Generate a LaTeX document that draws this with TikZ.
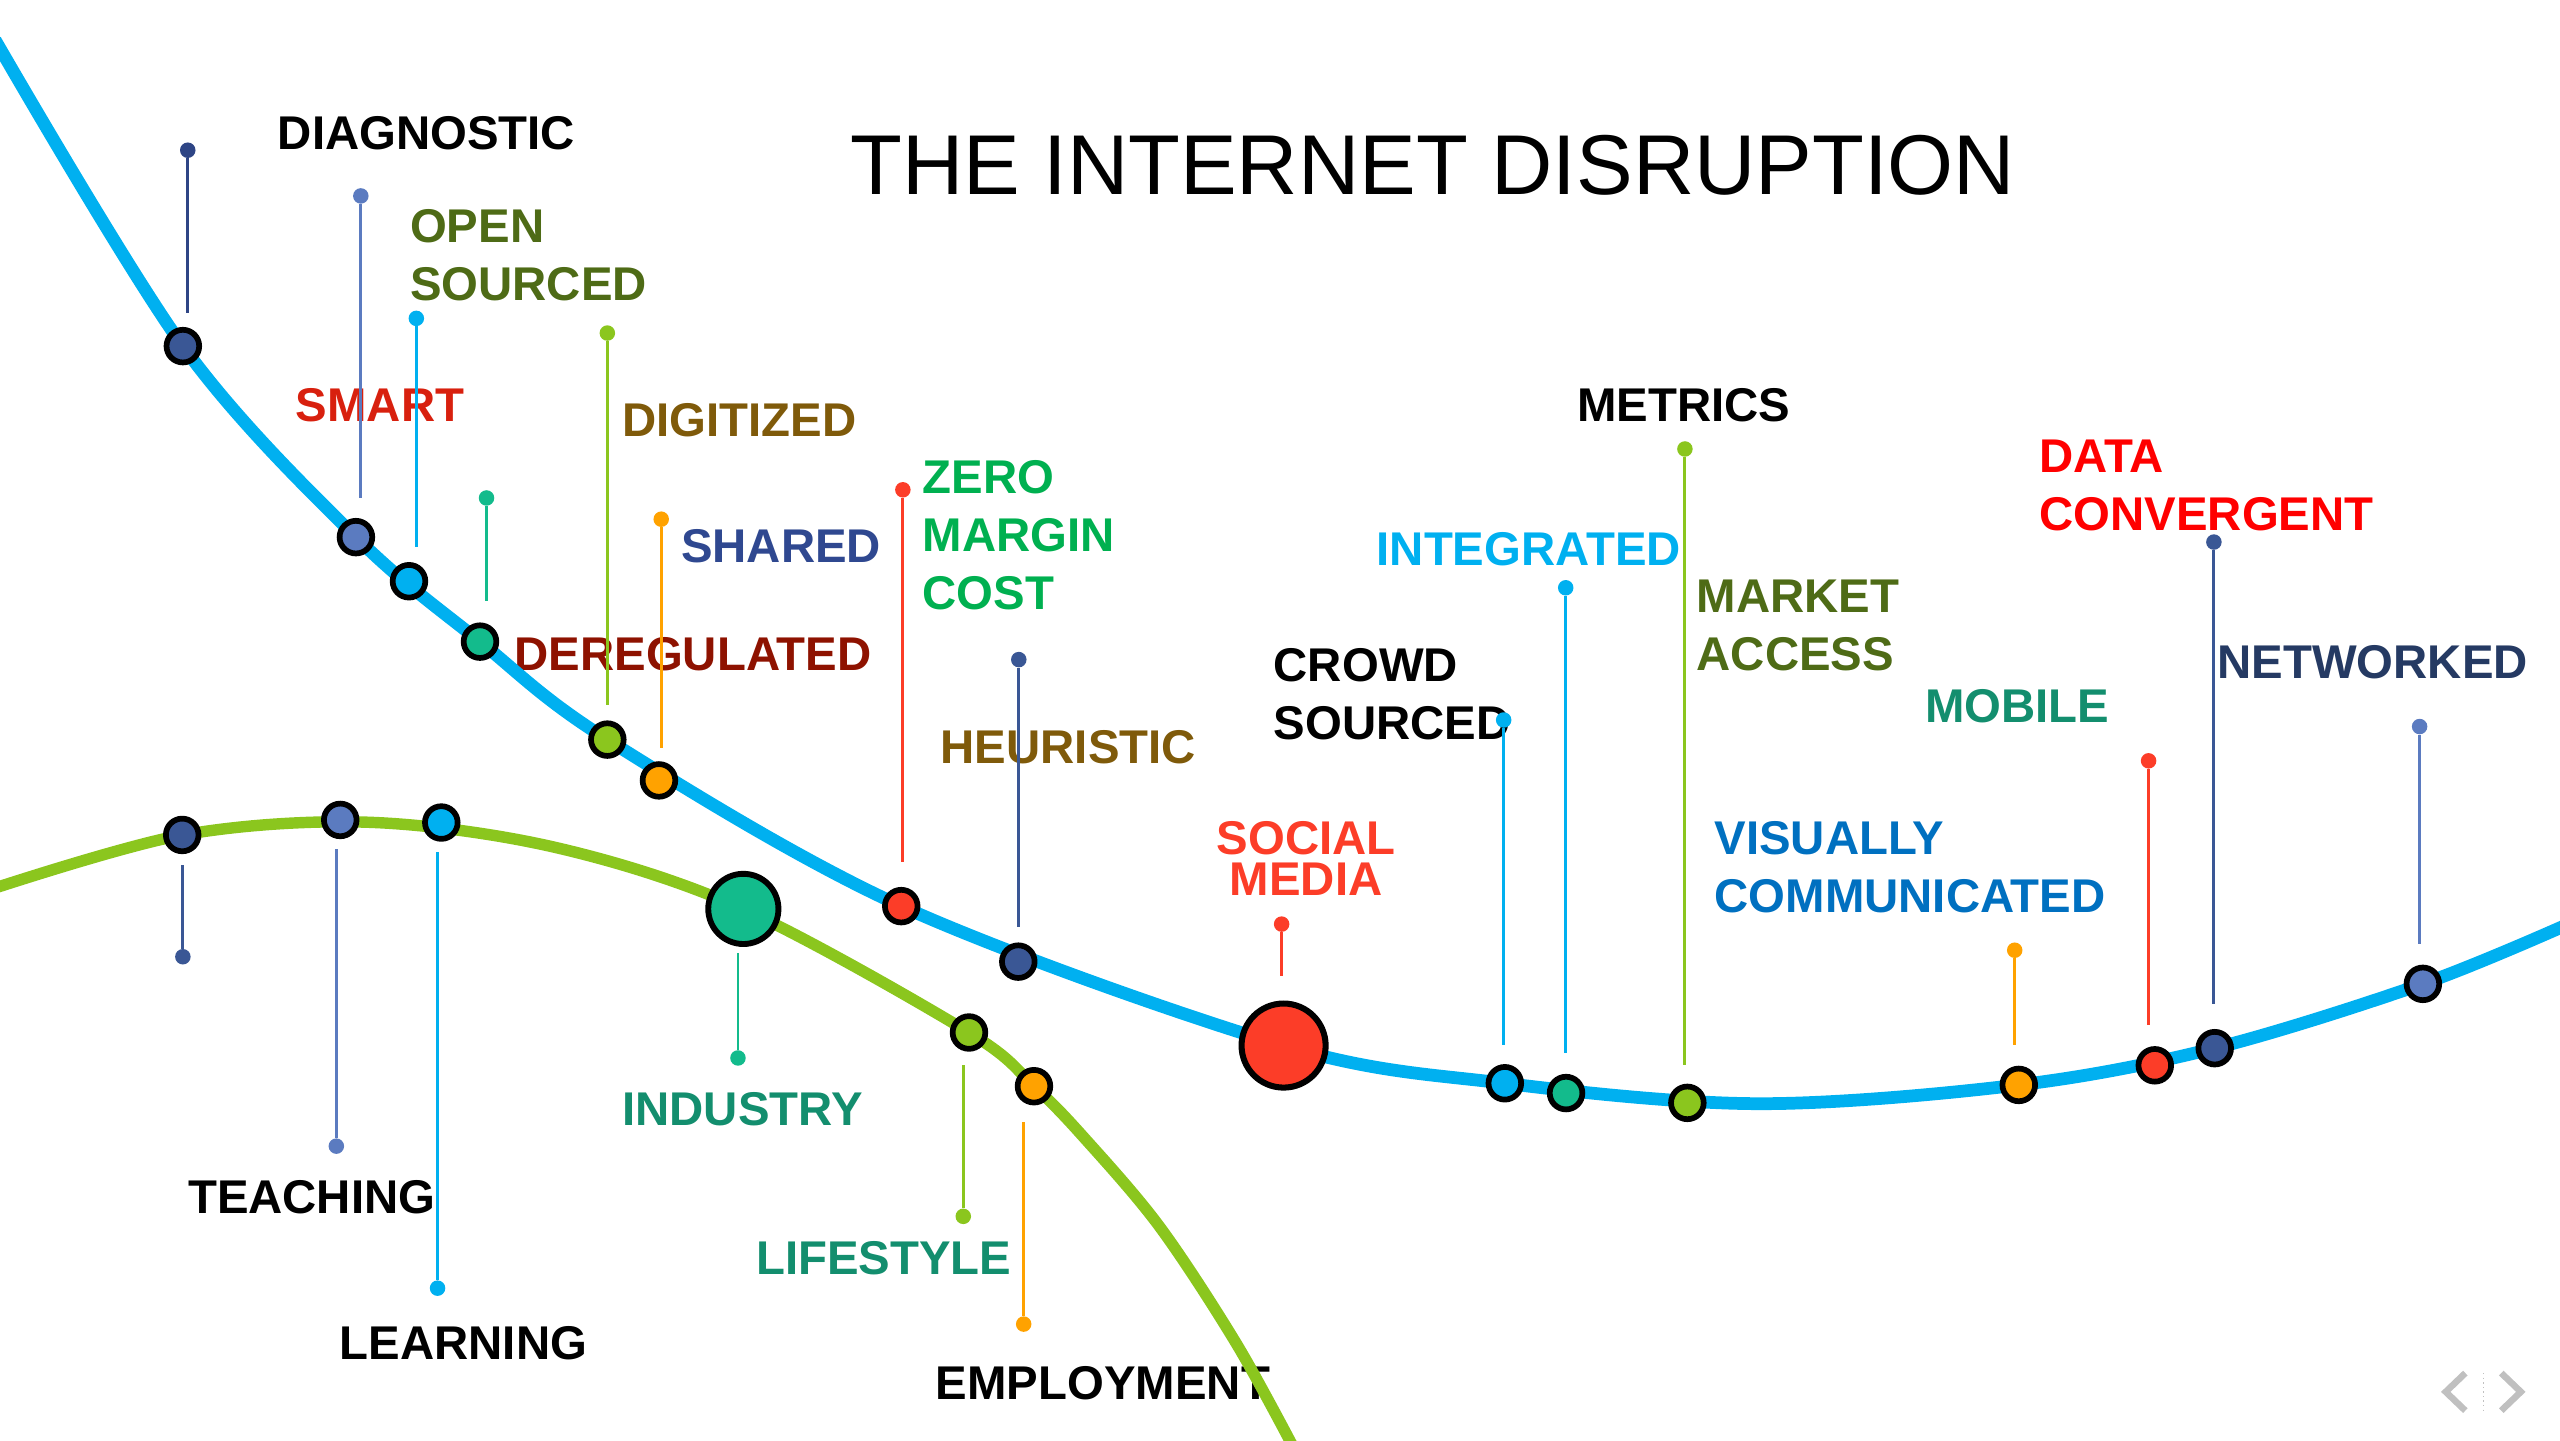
\documentclass[tikz,border=0pt]{standalone}
\usepackage{fontspec}
\setmainfont{Liberation Sans}
\definecolor{cDB}{HTML}{3A5795}
\definecolor{cDBl}{HTML}{2E4585}
\definecolor{cMB}{HTML}{5B7BC0}
\definecolor{cCY}{HTML}{00B0F0}
\definecolor{cTL}{HTML}{13BB8C}
\definecolor{cLM}{HTML}{8BC61E}
\definecolor{cOR}{HTML}{FFA200}
\definecolor{cRD}{HTML}{FC3D28}
\definecolor{tOlive}{HTML}{4E6B16}
\definecolor{tSmart}{HTML}{D8200E}
\definecolor{tBrown}{HTML}{7F5A0A}
\definecolor{tShared}{HTML}{2F4890}
\definecolor{tGreen}{HTML}{00B050}
\definecolor{tDereg}{HTML}{8E1200}
\definecolor{tData}{HTML}{FF0000}
\definecolor{tNet}{HTML}{253A63}
\definecolor{tTeal}{HTML}{138E6E}
\definecolor{tVis}{HTML}{0070C0}
\definecolor{navgray}{HTML}{C0C0C0}
\tikzset{
  lbl/.style={font=\bfseries\fontsize{29bp}{35.5bp}\selectfont, anchor=north west, inner sep=0pt, align=left},
  bead/.style={circle, draw=black, line width=3.5bp, minimum size=20bp, inner sep=0pt},
  pindot/.style={circle, fill=#1, minimum size=9.5bp, inner sep=0pt},
  pinline/.style={draw=#1, line width=1.8bp},
  navchev/.style={draw=navgray, line width=4bp},
}
\begin{document}
\begin{tikzpicture}[x=1bp, y=-1bp]
\useasboundingbox (0,0) rectangle (1568,882);

% title
\node[font=\fontsize{52bp}{60bp}\selectfont, anchor=base, inner sep=0pt] (title) at (877.5,119) {THE INTERNET DISRUPTION};

% labels
\node[lbl] (lDiag) at (170,71) {DIAGNOSTIC};
\node[lbl, text=tOlive] (lOpen) at (251,128) {OPEN\\SOURCED};
\node[lbl, text=tSmart] (lSmart) at (181,238) {SMART};
\node[lbl, text=tBrown] (lDigit) at (381,247) {DIGITIZED};
\node[lbl, text=tShared] (lShared) at (417,324) {SHARED};
\node[lbl, text=tGreen] (lZero) at (565,282) {ZERO\\MARGIN\\COST};
\node[lbl, text=tDereg] (lDereg) at (315,390) {DEREGULATED};
\node[lbl, text=tBrown] (lHeur) at (576,447) {HEURISTIC};
\node[lbl] (lMetrics) at (966,238) {METRICS};
\node[lbl, text=cCY] (lInteg) at (843,326) {INTEGRATED};
\node[lbl] (lCrowd) at (780,397) {CROWD\\SOURCED};
\node[lbl, text=tOlive] (lMarket) at (1039,355) {MARKET\\ACCESS};
\node[lbl, text=cRD, anchor=north, align=center, font=\bfseries\fontsize{29bp}{25bp}\selectfont] (lSocial) at (800,503) {SOCIAL\\MEDIA};
\node[lbl, text=tData] (lData) at (1249,269) {DATA\\CONVERGENT};
\node[lbl, text=tNet] (lNet) at (1358,395) {NETWORKED};
\node[lbl, text=tTeal] (lMobile) at (1179,422) {MOBILE};
\node[lbl, text=tVis] (lVis) at (1050,503) {VISUALLY\\COMMUNICATED};
\node[lbl, text=tTeal] (lInd) at (381,669) {INDUSTRY};
\node[lbl] (lTeach) at (115,723) {TEACHING};
\node[lbl] (lLearn) at (208,812) {LEARNING};
\node[lbl, text=tTeal] (lLife) at (463,760) {LIFESTYLE};
\node[lbl] (lEmp) at (573,837) {EMPLOYMENT};

% curves
\draw[cLM, line width=7bp] plot[smooth, tension=0.55] coordinates {(-4,544.2) (112,511.4) (225,503.6) (340,519) (455,556.7) (593.5,632.4) (633.3,665.3) (663,695.7) (710,751) (757,822.5) (793,888)};
\draw[cCY, line width=7.8bp] plot[smooth, tension=0.55] coordinates {(-3,24.5) (112,212) (218,329) (294,393) (372,453) (552,555) (786,640.4) (921.7,663.5) (1077,676) (1236.5,664.5) (1356.5,642) (1484,602.6) (1572,566.5)};

% pins on the blue curve (pointing up)
\node[pindot=cDBl] (p1) at (115,92) {};   \coordinate (p1e) at (115,192);
\node[pindot=cMB] (p2) at (221,120) {};   \coordinate (p2e) at (221,305);
\node[pindot=cCY] (p3) at (255,195) {};   \coordinate (p3e) at (255,335);
\node[pindot=cTL] (p4) at (298,305) {};   \coordinate (p4e) at (298,368);
\node[pindot=cLM] (p5) at (372,204) {};   \coordinate (p5e) at (372,432);
\node[pindot=cOR] (p6) at (405,318) {};   \coordinate (p6e) at (405,458);
\node[pindot=cRD] (p7) at (553,300) {};   \coordinate (p7e) at (553,528);
\node[pindot=cDB] (p8) at (624,404) {};   \coordinate (p8e) at (624,568);
\node[pindot=cRD] (p9) at (785,566) {};   \coordinate (p9e) at (785,598);
\node[pindot=cCY] (p10) at (921,441) {};  \coordinate (p10e) at (921,640);
\node[pindot=cCY] (p11) at (959,360) {};  \coordinate (p11e) at (959,645);
\node[pindot=cLM] (p12) at (1032,275) {}; \coordinate (p12e) at (1032,652);
\node[pindot=cOR] (p13) at (1234,582) {}; \coordinate (p13e) at (1234,640);
\node[pindot=cRD] (p14) at (1316,466) {}; \coordinate (p14e) at (1316,628);
\node[pindot=cDB] (p15) at (1356,332) {}; \coordinate (p15e) at (1356,615);
\node[pindot=cMB] (p16) at (1482,445) {}; \coordinate (p16e) at (1482,578);
% pins on the green curve (pointing down)
\node[pindot=cDB] (q1) at (112,586) {};   \coordinate (q1e) at (112,530);
\node[pindot=cMB] (q2) at (206,702) {};   \coordinate (q2e) at (206,520);
\node[pindot=cCY] (q3) at (268,789) {};   \coordinate (q3e) at (268,522);
\node[pindot=cTL] (q4) at (452,648) {};   \coordinate (q4e) at (452,584);
\node[pindot=cLM] (q5) at (590,745) {};   \coordinate (q5e) at (590,652);
\node[pindot=cOR] (q6) at (627,811) {};   \coordinate (q6e) at (627,687);

\draw[pinline=cDBl] (p1) -- (p1e);
\draw[pinline=cMB] (p2) -- (p2e);
\draw[pinline=cCY] (p3) -- (p3e);
\draw[pinline=cTL] (p4) -- (p4e);
\draw[pinline=cLM] (p5) -- (p5e);
\draw[pinline=cOR] (p6) -- (p6e);
\draw[pinline=cRD] (p7) -- (p7e);
\draw[pinline=cDB] (p8) -- (p8e);
\draw[pinline=cRD] (p9) -- (p9e);
\draw[pinline=cCY] (p10) -- (p10e);
\draw[pinline=cCY] (p11) -- (p11e);
\draw[pinline=cLM] (p12) -- (p12e);
\draw[pinline=cOR] (p13) -- (p13e);
\draw[pinline=cRD] (p14) -- (p14e);
\draw[pinline=cDB] (p15) -- (p15e);
\draw[pinline=cMB] (p16) -- (p16e);
\draw[pinline=cDB] (q1) -- (q1e);
\draw[pinline=cMB] (q2) -- (q2e);
\draw[pinline=cCY] (q3) -- (q3e);
\draw[pinline=cTL] (q4) -- (q4e);
\draw[pinline=cLM] (q5) -- (q5e);
\draw[pinline=cOR] (q6) -- (q6e);

% beads on the blue curve
\node[bead, fill=cDB] (b1) at (112,212) {};
\node[bead, fill=cMB] (b2) at (218,329) {};
\node[bead, fill=cCY] (b3) at (250.5,356) {};
\node[bead, fill=cTL] (b4) at (294,393) {};
\node[bead, fill=cLM] (b5) at (372,453) {};
\node[bead, fill=cOR] (b6) at (403.6,478) {};
\node[bead, fill=cRD] (b7) at (552,555) {};
\node[bead, fill=cDB] (b8) at (623.7,589) {};
\node[bead, fill=cRD, minimum size=51.5bp, line width=3.7bp] (b9) at (786.2,640.4) {};
\node[bead, fill=cCY] (b10) at (921.7,663.5) {};
\node[bead, fill=cTL] (b11) at (959.2,669.5) {};
\node[bead, fill=cLM] (b12) at (1033.5,675.5) {};
\node[bead, fill=cOR] (b13) at (1236.5,664.5) {};
\node[bead, fill=cRD] (b14) at (1319.8,652.5) {};
\node[bead, fill=cDB] (b15) at (1356.5,642) {};
\node[bead, fill=cMB] (b16) at (1484,602.6) {};
% beads on the green curve
\node[bead, fill=cDB] (g1) at (111.6,511.4) {};
\node[bead, fill=cMB] (g2) at (208.4,502.2) {};
\node[bead, fill=cCY] (g3) at (270.3,503.8) {};
\node[bead, fill=cTL, minimum size=43bp, line width=3.6bp] (g4) at (455.3,556.7) {};
\node[bead, fill=cLM] (g5) at (593.5,632.4) {};
\node[bead, fill=cOR] (g6) at (633.3,665.3) {};

% navigation chevrons
\coordinate (nl1) at (1510,841); \coordinate (nl2) at (1498,852.5); \coordinate (nl3) at (1510,864);
\coordinate (nr1) at (1532,841); \coordinate (nr2) at (1544,852.5); \coordinate (nr3) at (1532,864);
\coordinate (nd1) at (1521,841); \coordinate (nd2) at (1521,864);
\draw[navchev] (nl1) -- (nl2) -- (nl3);
\draw[navchev] (nr1) -- (nr2) -- (nr3);
\draw[navgray, line width=0.8bp, dotted] (nd1) -- (nd2);
\end{tikzpicture}
\end{document}
